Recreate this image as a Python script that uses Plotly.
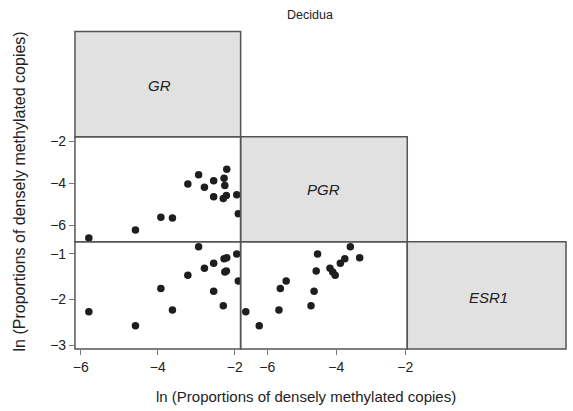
import plotly.graph_objects as go

# Data: ln(proportions of densely methylated copies) per sample
gr   = [-5.79, -4.58, -3.92, -3.62, -3.22, -2.94, -2.79, -2.55, -2.55, -2.30, -2.26, -2.28, -2.21, -2.22, -1.95, -1.91]
pgr  = [-6.62, -6.23, -5.62, -5.66, -4.03, -3.59, -4.18, -3.88, -4.64, -4.73, -4.10, -3.75, -3.32, -4.58, -4.54, -5.45]
esr1 = [-2.27, -2.58, -1.76, -2.23, -1.47, -0.85, -1.32, -1.21, -1.82, -2.14, -1.40, -1.11, -1.09, -1.38, -1.01, -1.60]

genes = ["GR", "PGR", "ESR1"]
x_ticks = [-6, -4, -2]
pgr_ticks = [-2, -4, -6]
esr1_ticks = [-1, -2, -3]
title = "Decidua"
axis_title = "ln (Proportions of densely methylated copies)"

W, H = 573, 411
def px(x): return x / W
def py(y): return 1 - y / H

cols = [74, 242, 411, 572]
rows = [29, 136, 243, 352]
FONT = "Liberation Sans, Arial, Helvetica"

fig = go.Figure()
mk = dict(color="#1e1e1e", size=7.5)
fig.add_trace(go.Scatter(x=gr, y=pgr, mode="markers", marker=mk, xaxis="x", yaxis="y", showlegend=False))
fig.add_trace(go.Scatter(x=gr, y=esr1, mode="markers", marker=mk, xaxis="x", yaxis="y2", showlegend=False))
fig.add_trace(go.Scatter(x=pgr, y=esr1, mode="markers", marker=mk, xaxis="x2", yaxis="y2", showlegend=False))

ax_common = dict(showgrid=False, zeroline=False, showline=False, ticks="outside", ticklen=5,
                 tickcolor="#777", tickwidth=1, tickfont=dict(family=FONT, size=14, color="#222"),
                 fixedrange=True)

fig.update_layout(
    width=W, height=H, margin=dict(l=0, r=0, t=0, b=0),
    paper_bgcolor="white", plot_bgcolor="white",
    xaxis=dict(domain=[px(cols[0]), px(cols[1])], range=[-6.15, -1.85], anchor="y2", tickvals=x_ticks, **ax_common),
    xaxis2=dict(domain=[px(cols[1]), px(cols[2])], range=[-6.77, -1.94], anchor="y2", tickvals=x_ticks, **ax_common),
    yaxis=dict(domain=[py(rows[2]), py(rows[1])], range=[-6.8, -1.765], anchor="x", tickvals=pgr_ticks, **ax_common),
    yaxis2=dict(domain=[py(rows[3]), py(rows[2])], range=[-3.086, -0.742], anchor="x", tickvals=esr1_ticks, **ax_common),
)

shapes = []
line = dict(color="#555", width=1.5)
# diagonal gray boxes
for i in range(3):
    shapes.append(dict(type="rect", xref="paper", yref="paper", layer="below",
                       x0=px(cols[i]), x1=px(cols[i + 1]), y0=py(rows[i + 1]), y1=py(rows[i]),
                       fillcolor="#e1e1e1", line=line))
# scatter panel borders
for (r, c) in [(1, 0), (2, 0), (2, 1)]:
    shapes.append(dict(type="rect", xref="paper", yref="paper", layer="above",
                       x0=px(cols[c]), x1=px(cols[c + 1]), y0=py(rows[r + 1]), y1=py(rows[r]),
                       fillcolor="rgba(0,0,0,0)", line=line))
fig.update_layout(shapes=shapes)

C = dict(xanchor="center", yanchor="middle", showarrow=False, xref="paper", yref="paper")
ann = []
label_pos = [(160, 84), (326, 190), (493, 300)]
for g, (lx, ly) in zip(genes, label_pos):
    ann.append(dict(x=px(lx), y=py(ly), text=f"<i>{g}</i>", font=dict(family=FONT, size=15, color="#222"), **C))
ann.append(dict(x=px(312), y=py(12), text=title, font=dict(family=FONT, size=12.5, color="#222"), **C))
ann.append(dict(x=px(308), y=py(400), text=axis_title, font=dict(family=FONT, size=15, color="#222"), **C))
ann.append(dict(x=px(18), y=py(192), text=axis_title, textangle=-90,
                font=dict(family=FONT, size=16, color="#222"), **C))
fig.update_layout(annotations=ann)

fig.write_html("out.html")
